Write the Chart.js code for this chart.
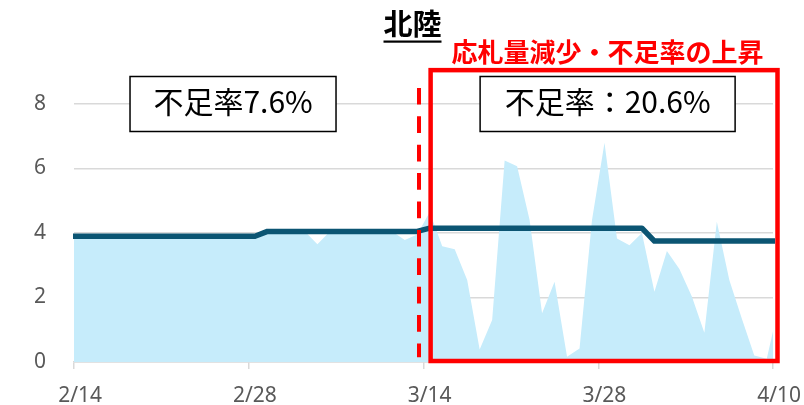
<!DOCTYPE html>
<html><head><meta charset="utf-8">
<script src="https://cdn.jsdelivr.net/npm/chart.js@4.4.0/dist/chart.umd.min.js"></script>
<style>html,body{margin:0;padding:0;background:#fff}#wrap{width:804px;height:405px;position:relative}</style>
</head><body><div id="wrap"><canvas id="c"></canvas></div>
<script>
// x-axis tick labels, one every 14 days
const tickLabels = ['2/14', '2/28', '3/14', '3/28', '4/10'];
const tickStep = 14;
const yTickStep = 2;
const yMax = 9;

// Daily values, first and last entries sit just outside the plot edges
const supplyValues = [
  3.9,
  3.9, 3.9, 3.9, 3.9, 3.9, 3.9, 3.9, 3.9, 3.9, 3.9, 3.9, 3.9, 3.9, 3.9, 3.9,
  4.05, 4.05, 4.05, 4.05, 3.65, 4.05, 4.05, 4.05, 4.05, 4.05, 4.05, 3.78, 3.95,
  4.65, 3.59, 3.50, 2.54, 0.39, 1.30, 6.25, 6.07, 4.40, 1.51, 2.49, 0.16, 0.42, 4.40,
  6.8, 3.83, 3.62, 4.0, 2.18, 3.44, 2.88, 2.03, 0.91, 4.35, 2.54, 1.35, 0.2, 0.1, 1.8
];
const demandValues = [
  3.9,
  3.9, 3.9, 3.9, 3.9, 3.9, 3.9, 3.9, 3.9, 3.9, 3.9, 3.9, 3.9, 3.9, 3.9, 3.9,
  4.05, 4.05, 4.05, 4.05, 4.05, 4.05, 4.05, 4.05, 4.05, 4.05, 4.05, 4.05, 4.05,
  4.15, 4.15, 4.15, 4.15, 4.15, 4.15, 4.15, 4.15, 4.15, 4.15, 4.15, 4.15, 4.15, 4.15,
  4.15, 4.15, 4.15, 4.15, 3.75, 3.75, 3.75, 3.75, 3.75, 3.75, 3.75, 3.75, 3.75, 3.75, 3.75
];

const titleText = '北陸';
const noteText = '応札量減少・不足率の上昇';
const boxTexts = ['不足率7.6%', '不足率：20.6%'];

const toPoints = arr => arr.map((v, i) => ({ x: i - 0.5, y: v }));

const overlay = {
  id: 'overlay',
  afterDraw(chart) {
    const { ctx, chartArea: a, scales: { x, y } } = chart;
    ctx.save();
    // red dashed divider
    const dx = x.getPixelForValue(27.64);
    ctx.strokeStyle = '#ff0000';
    ctx.lineWidth = 4;
    ctx.setLineDash([16.7, 11.7]);
    ctx.beginPath();
    ctx.moveTo(dx, y.getPixelForValue(8.5));
    ctx.lineTo(dx, y.getPixelForValue(0.15));
    ctx.stroke();
    ctx.setLineDash([]);
    // red highlight box
    const l = x.getPixelForValue(28.57), r = a.right + 4.5;
    const t = y.getPixelForValue(9.05), b = y.getPixelForValue(0) - 1;
    ctx.lineWidth = 4.5;
    ctx.strokeRect(l, t, r - l, b - t);
    // text boxes
    const boxes = [
      { cx: x.getPixelForValue(12.74), cy: y.getPixelForValue(8), w: 206, h: 55, text: boxTexts[0] },
      { cx: x.getPixelForValue(42.75), cy: y.getPixelForValue(8), w: 255, h: 55, text: boxTexts[1] }
    ];
    boxes.forEach(bx => {
      ctx.fillStyle = '#fff';
      ctx.fillRect(bx.cx - bx.w / 2, bx.cy - bx.h / 2, bx.w, bx.h);
      ctx.strokeStyle = '#000';
      ctx.lineWidth = 1.5;
      ctx.strokeRect(bx.cx - bx.w / 2, bx.cy - bx.h / 2, bx.w, bx.h);
      ctx.fillStyle = '#000';
      ctx.font = "30px 'Noto Sans CJK JP'";
      ctx.textAlign = 'center';
      ctx.textBaseline = 'middle';
      ctx.fillText(bx.text, bx.cx, bx.cy - 2);
    });
    // title
    ctx.fillStyle = '#000';
    ctx.font = "bold 29px 'Noto Sans CJK JP'";
    ctx.textAlign = 'center';
    ctx.textBaseline = 'middle';
    ctx.fillText(titleText, 412.5, 24);
    const tw = ctx.measureText(titleText).width;
    ctx.fillRect(412.5 - tw / 2, 40.5, tw, 2.2);
    // red note
    ctx.fillStyle = '#ff0000';
    ctx.font = "bold 26px 'Noto Sans CJK JP'";
    ctx.fillText(noteText, 607.5, 52.5);
    ctx.restore();
  }
};

new Chart(document.getElementById('c'), {
  type: 'line',
  data: {
    datasets: [
      {
        label: 'demand',
        data: toPoints(demandValues),
        borderColor: '#0b5573',
        borderWidth: 5.5,
        pointRadius: 0,
        fill: false,
        tension: 0,
        borderJoinStyle: 'round',
        clip: { left: 1, right: 2, top: 10, bottom: 10 }
      },
      {
        label: 'supply',
        data: toPoints(supplyValues),
        borderWidth: 0,
        borderColor: 'rgba(0,0,0,0)',
        backgroundColor: '#c6ecfb',
        pointRadius: 0,
        fill: 'origin',
        tension: 0,
        clip: { left: 1, right: 2, top: 10, bottom: 0 }
      }
    ]
  },
  options: {
    responsive: true,
    maintainAspectRatio: false,
    animation: false,
    layout: { padding: { top: 71.75, right: 31, bottom: 0, left: 0 } },
    plugins: { legend: { display: false }, tooltip: { enabled: false }, title: { display: false } },
    scales: {
      x: {
        type: 'linear',
        min: 0,
        max: (tickLabels.length - 1) * tickStep,
        afterFit: s => { s.height = 43; s.paddingLeft = 0; s.paddingRight = 0; },
        ticks: {
          stepSize: tickStep,
          autoSkip: false,
          maxRotation: 0,
          includeBounds: false,
          labelOffset: 6.2,
          padding: 14,
          color: '#595959',
          font: { family: "'Noto Sans', sans-serif", size: 21 },
          callback: v => tickLabels[Math.round(v / tickStep)]
        },
        grid: { drawOnChartArea: false, drawTicks: true, tickLength: 7, color: '#d9d9d9', lineWidth: 1.5 },
        border: { display: true, color: '#d9d9d9', width: 1.5 }
      },
      y: {
        min: 0,
        max: yMax,
        afterFit: s => { s.width = 74; },
        ticks: {
          stepSize: yTickStep,
          includeBounds: false,
          padding: 28,
          color: '#595959',
          font: { family: "'Noto Sans', sans-serif", size: 21 }
        },
        grid: { color: '#d9d9d9', lineWidth: 1.5, drawTicks: false },
        border: { display: false }
      }
    }
  },
  plugins: [overlay]
});
</script></body></html>
